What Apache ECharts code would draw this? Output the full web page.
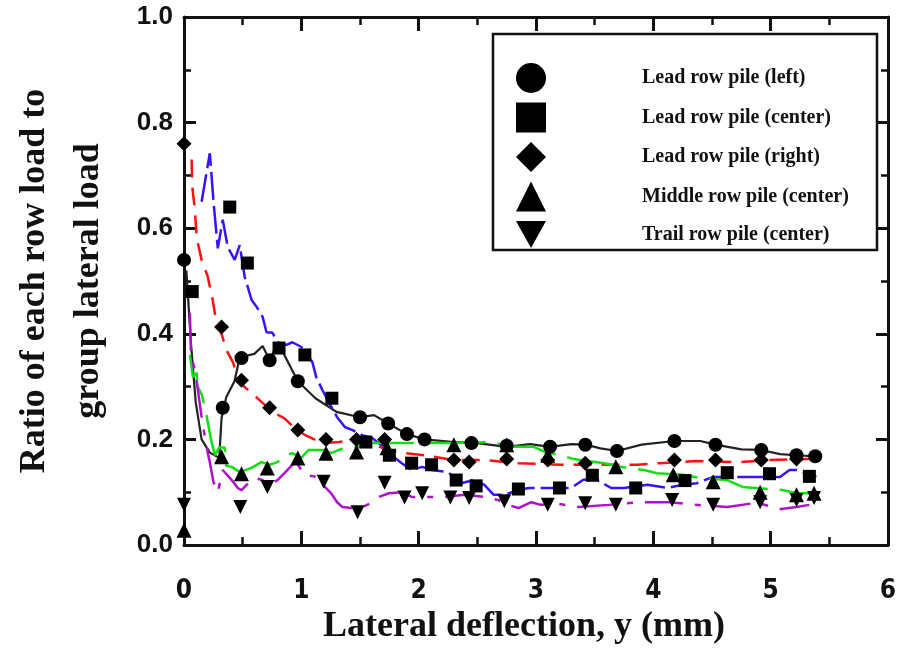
<!DOCTYPE html>
<html><head><meta charset="utf-8">
<script src="https://cdn.jsdelivr.net/npm/echarts@6/dist/echarts.min.js"></script>
<style>html,body{margin:0;padding:0;background:#fff}#c{width:901px;height:651px}</style>
</head><body><div id="c"></div>
<script>
// ---- data ----
const seriesNames = ['Lead row pile (left)', 'Lead row pile (center)', 'Lead row pile (right)', 'Middle row pile (center)', 'Trail row pile (center)'];
const xTickLabels = ['0','1','2','3','4','5','6'];
const yTickLabels = ['0.0','0.2','0.4','0.6','0.8','1.0'];

const leadLeftLine = [[0.02,0.52],[0.06,0.38],[0.1,0.27],[0.15,0.2],[0.22,0.175],[0.3,0.165],[0.32,0.24],[0.36,0.28],[0.43,0.31],[0.47,0.35],[0.52,0.358],[0.6,0.362],[0.67,0.377],[0.73,0.35],[0.78,0.375],[0.85,0.362],[0.97,0.31],[1.12,0.278],[1.3,0.252],[1.5,0.242],[1.62,0.246],[1.74,0.23],[1.9,0.21],[2.05,0.2],[2.3,0.195],[2.5,0.193],[2.75,0.186],[2.95,0.191],[3.12,0.186],[3.3,0.191],[3.42,0.19],[3.55,0.183],[3.69,0.178],[3.9,0.19],[4.18,0.197],[4.4,0.197],[4.53,0.19],[4.75,0.181],[4.92,0.18],[5.08,0.172],[5.22,0.17],[5.38,0.168]];
const leadCenterLine = [[0.15,0.65],[0.22,0.742],[0.254,0.644],[0.288,0.562],[0.33,0.616],[0.373,0.564],[0.432,0.54],[0.475,0.568],[0.517,0.508],[0.534,0.496],[0.576,0.464],[0.619,0.451],[0.67,0.432],[0.703,0.403],[0.754,0.402],[0.797,0.384],[0.873,0.379],[0.924,0.384],[1.0,0.375],[1.093,0.347],[1.127,0.318],[1.178,0.294],[1.237,0.269],[1.305,0.242],[1.373,0.223],[1.432,0.218],[1.517,0.208],[1.6,0.203],[1.71,0.184],[1.77,0.17],[1.856,0.155],[1.94,0.142],[2.03,0.148],[2.11,0.142],[2.25,0.138],[2.36,0.117],[2.47,0.123],[2.56,0.114],[2.64,0.095],[2.73,0.095],[2.85,0.104],[2.94,0.108],[3.15,0.108],[3.3,0.108],[3.4,0.123],[3.49,0.127],[3.64,0.108],[3.75,0.108],[3.95,0.114],[4.12,0.108],[4.25,0.114],[4.37,0.117],[4.51,0.129],[4.68,0.129],[4.8,0.129],[5.08,0.129],[5.16,0.142],[5.22,0.142],[5.39,0.129]];
const leadRightLine = [[0.065,0.73],[0.07,0.68],[0.09,0.64],[0.11,0.58],[0.15,0.54],[0.2,0.51],[0.24,0.47],[0.27,0.43],[0.32,0.4],[0.36,0.37],[0.42,0.345],[0.46,0.31],[0.576,0.288],[0.66,0.271],[0.771,0.25],[0.856,0.24],[0.94,0.222],[1.034,0.208],[1.178,0.193],[1.32,0.195],[1.49,0.2],[1.6,0.191],[1.746,0.18],[1.88,0.174],[2.05,0.17],[2.3,0.161],[2.56,0.161],[2.85,0.155],[3.21,0.152],[3.55,0.152],[3.86,0.152],[4.06,0.155],[4.36,0.159],[4.74,0.157],[4.99,0.161],[5.33,0.163]];
const middleLine = [[0.05,0.36],[0.076,0.318],[0.11,0.326],[0.11,0.303],[0.153,0.284],[0.195,0.242],[0.23,0.2],[0.263,0.17],[0.3,0.185],[0.347,0.184],[0.36,0.15],[0.407,0.148],[0.475,0.138],[0.576,0.146],[0.66,0.157],[0.729,0.152],[0.797,0.157],[0.873,0.17],[0.924,0.174],[1.0,0.165],[1.06,0.18],[1.127,0.18],[1.195,0.18],[1.254,0.174],[1.32,0.18],[1.39,0.186],[1.49,0.186],[1.6,0.193],[1.97,0.193],[2.25,0.193],[2.64,0.195],[2.75,0.186],[2.98,0.186],[3.08,0.176],[3.21,0.17],[3.32,0.163],[3.58,0.155],[3.72,0.148],[3.92,0.142],[4.03,0.136],[4.25,0.133],[4.4,0.127],[4.63,0.123],[4.76,0.11],[5.1,0.104],[5.22,0.098],[5.39,0.098]];
const trailLine = [[0.05,0.44],[0.06,0.36],[0.093,0.331],[0.11,0.307],[0.153,0.237],[0.178,0.205],[0.203,0.174],[0.22,0.157],[0.25,0.12],[0.288,0.1],[0.33,0.142],[0.407,0.123],[0.458,0.108],[0.49,0.104],[0.534,0.114],[0.6,0.127],[0.67,0.123],[0.746,0.117],[0.797,0.123],[0.856,0.136],[0.924,0.152],[0.958,0.157],[1.025,0.133],[1.11,0.13],[1.21,0.108],[1.254,0.098],[1.305,0.081],[1.35,0.072],[1.43,0.07],[1.52,0.072],[1.6,0.08],[1.66,0.091],[1.746,0.098],[1.856,0.1],[1.94,0.091],[2.05,0.091],[2.22,0.091],[2.39,0.095],[2.56,0.091],[2.68,0.085],[2.76,0.076],[2.85,0.07],[2.96,0.081],[3.04,0.076],[3.19,0.078],[3.36,0.072],[3.62,0.076],[3.89,0.081],[4.14,0.081],[4.36,0.076],[4.63,0.072],[4.88,0.08],[5.09,0.068],[5.22,0.072],[5.33,0.076]];

const leadLeftPts = [[0,0.54],[0.33,0.26],[0.49,0.354],[0.73,0.35],[0.97,0.31],[1.5,0.242],[1.74,0.23],[1.9,0.21],[2.05,0.2],[2.45,0.193],[2.75,0.188],[3.12,0.186],[3.42,0.19],[3.69,0.178],[4.18,0.197],[4.53,0.19],[4.92,0.18],[5.22,0.17],[5.38,0.168]];
const leadCenterPts = [[0.07,0.48],[0.39,0.64],[0.54,0.534],[0.81,0.373],[1.03,0.36],[1.26,0.278],[1.55,0.195],[1.75,0.17],[1.94,0.155],[2.11,0.152],[2.32,0.123],[2.49,0.112],[2.85,0.106],[3.2,0.108],[3.48,0.132],[3.85,0.108],[4.27,0.122],[4.63,0.137],[4.99,0.135],[5.33,0.13]];
const leadRightPts = [[0,0.76],[0.32,0.413],[0.49,0.312],[0.73,0.26],[0.97,0.218],[1.21,0.2],[1.47,0.2],[1.71,0.2],[2.3,0.161],[2.43,0.157],[2.75,0.163],[3.1,0.161],[3.42,0.155],[4.18,0.161],[4.53,0.161],[4.92,0.161],[5.22,0.163]];
const middlePts = [[0,0.028],[0.32,0.167],[0.49,0.135],[0.71,0.146],[0.97,0.165],[1.21,0.174],[1.47,0.176],[1.73,0.184],[2.3,0.19],[2.75,0.19],[3.1,0.17],[3.68,0.148],[4.17,0.133],[4.51,0.12],[4.91,0.1],[5.22,0.095],[5.37,0.098]];
const trailPts = [[0,0.076],[0.48,0.072],[0.71,0.11],[1.19,0.12],[1.48,0.062],[1.71,0.118],[1.88,0.09],[2.03,0.098],[2.27,0.09],[2.43,0.089],[2.73,0.083],[3.1,0.076],[3.42,0.079],[3.68,0.076],[4.16,0.085],[4.51,0.076],[4.91,0.081],[5.22,0.085],[5.37,0.089]];

// ---- chart ----
const chart = echarts.init(document.getElementById('c'), null, {renderer: 'canvas'});
const serif = '"Liberation Serif", "Times New Roman", serif';
const sansNarrow = '"Liberation Sans Narrow", "DejaVu Sans Condensed", "Liberation Sans", sans-serif';
const sans = '"Liberation Sans", Arial, sans-serif';
const downTri = 'path://M0,0L20,0L10,18Z';

function axisCommon(showLabel) {
  return {
    axisLine: {show: true, onZero: false, lineStyle: {color: '#111', width: 3}},
    axisTick: {show: true, inside: true, length: 14, lineStyle: {color: '#111', width: 3}},
    minorTick: {show: true, splitNumber: 2, length: 8, lineStyle: {color: '#111', width: 2.5}},
    splitLine: {show: false},
    axisLabel: {show: showLabel}
  };
}

const lineStyles = [
  {color: '#222222', width: 2.2, type: 'solid'},
  {color: '#3a10ff', width: 2.5, type: [28, 6]},
  {color: '#ff1010', width: 2.5, type: [18, 10]},
  {color: '#10e010', width: 2.5, type: [60, 12]},
  {color: '#b010cc', width: 2.5, type: [38, 12, 6, 12]}
];
const lineData = [leadLeftLine, leadCenterLine, leadRightLine, middleLine, trailLine];
const ptData = [leadLeftPts, leadCenterPts, leadRightPts, middlePts, trailPts];
const symbols = ['circle', 'rect', 'diamond', 'triangle', downTri];
const symSizes = [14, 13, 15, 15, 14];

const series = [];
lineData.forEach((d, i) => {
  series.push({
    name: seriesNames[i] + ' curve', type: 'line', data: d, showSymbol: false, symbol: 'none',
    lineStyle: lineStyles[i], z: 2, silent: true, animation: false, clip: false
  });
});
ptData.forEach((d, i) => {
  series.push({
    name: seriesNames[i], type: 'scatter', data: d, symbol: symbols[i], symbolSize: symSizes[i],
    itemStyle: {color: '#000', opacity: 1}, z: 4, animation: false, clip: false
  });
});

const option = {
  animation: false,
  backgroundColor: '#fff',
  grid: {left: 181, right: 13, top: 17, bottom: 106, containLabel: false},
  xAxis: [
    Object.assign(axisCommon(true), {
      type: 'value', position: 'bottom', min: 0, max: 6, interval: 1,
      axisLabel: {show: true, margin: 33, color: '#111', fontFamily: sansNarrow, fontWeight: 'bold', fontSize: 26, lineHeight: 26,
        formatter: v => xTickLabels[Math.round(v)]},
      name: 'Lateral deflection, y (mm)', nameLocation: 'middle', nameGap: 64,
      nameTextStyle: {color: '#111', fontFamily: serif, fontWeight: 'bold', fontSize: 36, lineHeight: 36, padding: [0, 24, 0, 0]}
    }),
    Object.assign(axisCommon(false), {type: 'value', position: 'top', min: 0, max: 6, interval: 1})
  ],
  yAxis: [
    Object.assign(axisCommon(true), {
      type: 'value', position: 'left', min: 0, max: 1, interval: 0.2,
      axisTick: {show: true, inside: true, length: 12, lineStyle: {color: '#111', width: 3}},
      minorTick: {show: true, splitNumber: 2, length: 7, lineStyle: {color: '#111', width: 2.5}},
      axisLabel: {show: true, margin: 11, color: '#111', fontFamily: sans, fontWeight: 'bold', fontSize: 26,
        formatter: v => yTickLabels[Math.round(v * 5)]},
      name: 'Ratio of each row load to\ngroup lateral load', nameLocation: 'middle', nameGap: 68,
      nameTextStyle: {color: '#111', fontFamily: serif, fontWeight: 'bold', fontSize: 36, lineHeight: 54}
    }),
    Object.assign(axisCommon(false), {
      type: 'value', position: 'right', min: 0, max: 1, interval: 0.2,
      axisTick: {show: true, inside: true, length: 12, lineStyle: {color: '#111', width: 3}},
      minorTick: {show: true, splitNumber: 2, length: 7, lineStyle: {color: '#111', width: 2.5}}
    })
  ],
  legend: {
    data: seriesNames, orient: 'vertical', left: 511, top: 58,
    itemWidth: 30, itemHeight: 30, itemGap: 9.5, selectedMode: false,
    itemStyle: {opacity: 1},
    textStyle: {color: '#111', fontFamily: serif, fontWeight: 'bold', fontSize: 20, padding: [0, 0, 0, 91]}
  },
  graphic: [{
    type: 'rect', shape: {x: 493, y: 34, width: 384, height: 216},
    style: {fill: 'none', stroke: '#111', lineWidth: 2.5}, z: 10, silent: true
  }],
  series: series
};
chart.setOption(option);
</script>
</body></html>
